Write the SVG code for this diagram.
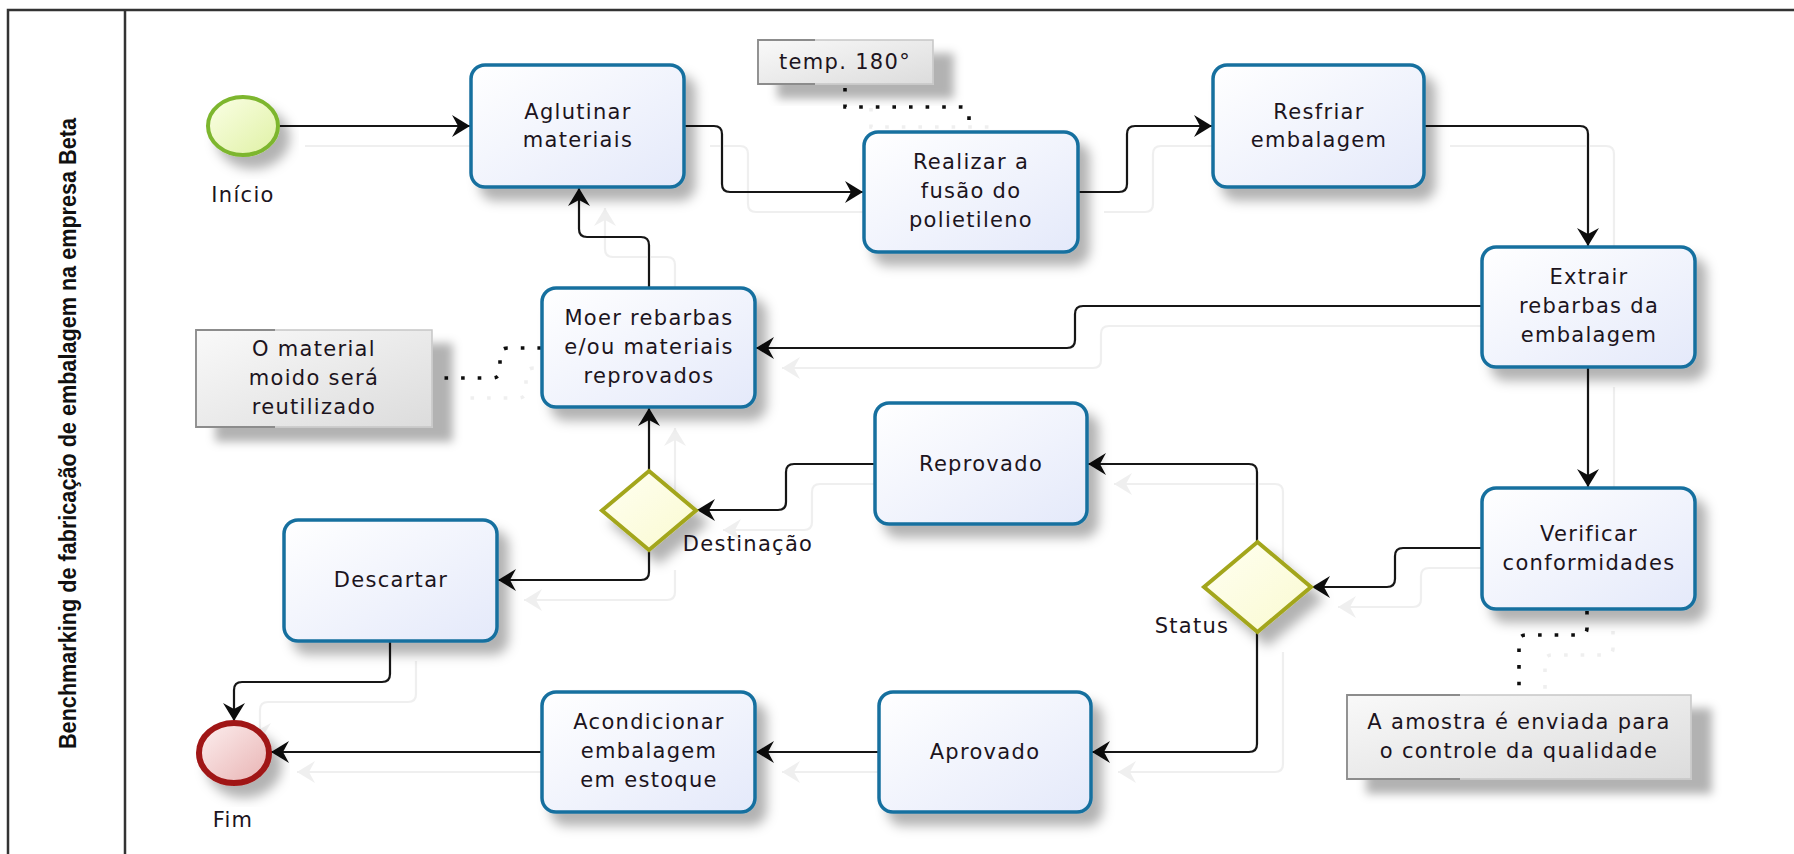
<svg xmlns="http://www.w3.org/2000/svg" width="1794" height="854" viewBox="0 0 1794 854">
<style>
.lbl{font-family:"DejaVu Sans","Noto Sans",sans-serif;font-size:21px;letter-spacing:1.3px;fill:#1c1420;text-anchor:middle}
.task{fill:url(#gTask);stroke:#17709f;stroke-width:3.5}
.conn{fill:none;stroke:#151515;stroke-width:2.2;marker-end:url(#arr)}
.assoc{fill:none;stroke:#111;stroke-width:3.6;stroke-dasharray:3.6 13;stroke-linecap:butt}
.note{fill:url(#gNote);stroke:#c6c6c6;stroke-width:1.5}
.brk{fill:none;stroke:#8c8c8c;stroke-width:1.8}
.gw{fill:url(#gGw);stroke:#a3a61e;stroke-width:4}
</style>
<defs>
<linearGradient id="gTask" x1="0" y1="0" x2="1" y2="1"><stop offset="0" stop-color="#ffffff"/><stop offset="1" stop-color="#e4e9fa"/></linearGradient>
<linearGradient id="gStart" x1="0" y1="0" x2="1" y2="1"><stop offset="0" stop-color="#fbffe6"/><stop offset="1" stop-color="#dff1a4"/></linearGradient>
<linearGradient id="gEnd" x1="0" y1="0" x2="1" y2="1"><stop offset="0" stop-color="#fdf0f0"/><stop offset="1" stop-color="#e8b2b2"/></linearGradient>
<linearGradient id="gGw" x1="0" y1="0" x2="1" y2="1"><stop offset="0" stop-color="#fffff2"/><stop offset="1" stop-color="#fafad0"/></linearGradient>
<linearGradient id="gNote" x1="0" y1="0" x2="1" y2="1"><stop offset="0" stop-color="#f9f9f9"/><stop offset="1" stop-color="#dcdcdc"/></linearGradient>
<marker id="arr" viewBox="-20 -12 22 24" refX="0" refY="0" markerWidth="22" markerHeight="24" orient="auto" markerUnits="userSpaceOnUse"><path d="M0,0 L-18,-11 L-12,0 L-18,11 Z" fill="#111"/></marker>
<filter id="shNode" x="-20%" y="-20%" width="150%" height="160%"><feDropShadow dx="10" dy="12" stdDeviation="6" flood-color="#000" flood-opacity="0.3"/></filter>
<filter id="shNote" x="-20%" y="-30%" width="150%" height="180%"><feDropShadow dx="20" dy="14" stdDeviation="5" flood-color="#000" flood-opacity="0.3"/></filter>
<filter id="shConn" x="-5%" y="-5%" width="115%" height="120%"><feOffset in="SourceAlpha" dx="26" dy="20" result="o"/><feFlood flood-color="#efefef"/><feComposite in2="o" operator="in" result="s"/><feMerge><feMergeNode in="s"/><feMergeNode in="SourceGraphic"/></feMerge></filter>
</defs>
<rect width="1794" height="854" fill="#ffffff"/>
<g id="pool">
<rect x="8" y="10" width="1810" height="900" fill="none" stroke="#333" stroke-width="2.5"/>
<line x1="125" y1="10" x2="125" y2="860" stroke="#333" stroke-width="2.5"/>
<text transform="translate(76,433.5) rotate(-90)" font-family="Liberation Sans, Arial, sans-serif" font-weight="bold" font-size="24" fill="#111" text-anchor="middle" textLength="631" lengthAdjust="spacingAndGlyphs">Benchmarking de fabricação de embalagem na empresa Beta</text>
</g>
<g id="connectors" filter="url(#shConn)">
<path class="conn" d="M279,126 H470"/>
<path class="conn" d="M684,126 H714 Q722,126 722,134 V184 Q722,192 730,192 H863"/>
<path class="conn" d="M1078,192 H1119 Q1127,192 1127,184 V134 Q1127,126 1135,126 H1212"/>
<path class="conn" d="M1424,126 H1580 Q1588,126 1588,134 V246"/>
<path class="conn" d="M1482,306 H1083 Q1075,306 1075,314 V340 Q1075,348 1067,348 H756"/>
<path class="conn" d="M649,288 V245 Q649,237 641,237 H587 Q579,237 579,229 V188"/>
<path class="conn" d="M1588,367 V487"/>
<path class="conn" d="M1482,548 H1403 Q1395,548 1395,556 V579 Q1395,587 1387,587 H1312"/>
<path class="conn" d="M1257,542 V472 Q1257,464 1249,464 H1088"/>
<path class="conn" d="M1257,632 V744 Q1257,752 1249,752 H1092"/>
<path class="conn" d="M874,464 H794 Q786,464 786,472 V502 Q786,510 778,510 H697"/>
<path class="conn" d="M649,471 V408"/>
<path class="conn" d="M649,550 V572 Q649,580 641,580 H498"/>
<path class="conn" d="M390,641 V674 Q390,682 382,682 H242 Q234,682 234,690 V721"/>
<path class="conn" d="M541,752 H271"/>
<path class="conn" d="M879,752 H756"/>
<path class="assoc" d="M845,88 V107 H962 Q969,107 969,114 V131"/>
<path class="assoc" d="M541,348 H508 Q500,348 500,356 V370 Q500,378 492,378 H435"/>
<path class="assoc" d="M1587,611 V628 Q1587,635 1580,635 H1526 Q1519,635 1519,642 V694"/>
</g>
<g id="start" filter="url(#shNode)"><ellipse cx="243" cy="126" rx="35" ry="29" fill="url(#gStart)" stroke="#7db62e" stroke-width="4"/></g>
<text class="lbl" x="243" y="202">Início</text>
<g id="aglutinar"><rect class="task" x="471" y="65" width="213" height="122" rx="14" filter="url(#shNode)"/><text class="lbl" x="578" y="119">Aglutinar</text><text class="lbl" x="578" y="147">materiais</text></g>
<g id="realizar"><rect class="task" x="864" y="132" width="214" height="120" rx="14" filter="url(#shNode)"/><text class="lbl" x="971" y="169">Realizar a</text><text class="lbl" x="971" y="198">fusão do</text><text class="lbl" x="971" y="227">polietileno</text></g>
<g id="resfriar"><rect class="task" x="1213" y="65" width="211" height="122" rx="14" filter="url(#shNode)"/><text class="lbl" x="1319" y="119">Resfriar</text><text class="lbl" x="1319" y="147">embalagem</text></g>
<g id="extrair"><rect class="task" x="1482" y="247" width="213" height="120" rx="14" filter="url(#shNode)"/><text class="lbl" x="1589" y="284">Extrair</text><text class="lbl" x="1589" y="313">rebarbas da</text><text class="lbl" x="1589" y="342">embalagem</text></g>
<g id="moer"><rect class="task" x="542" y="288" width="213" height="119" rx="14" filter="url(#shNode)"/><text class="lbl" x="649" y="325">Moer rebarbas</text><text class="lbl" x="649" y="354">e/ou materiais</text><text class="lbl" x="649" y="383">reprovados</text></g>
<g id="verificar"><rect class="task" x="1482" y="488" width="213" height="121" rx="14" filter="url(#shNode)"/><text class="lbl" x="1589" y="541">Verificar</text><text class="lbl" x="1589" y="570">conformidades</text></g>
<g id="status"><path class="gw" d="M1257.5,542 L1311,587 L1257.5,632 L1204,587 Z" filter="url(#shNode)"/><text class="lbl" x="1192" y="633">Status</text></g>
<g id="reprovado"><rect class="task" x="875" y="403" width="212" height="121" rx="14" filter="url(#shNode)"/><text class="lbl" x="981" y="471">Reprovado</text></g>
<g id="destinacao"><path class="gw" d="M649,471 L696,510.5 L649,550 L602,510.5 Z" filter="url(#shNode)"/><text class="lbl" x="748" y="551">Destinação</text></g>
<g id="descartar"><rect class="task" x="284" y="520" width="213" height="121" rx="14" filter="url(#shNode)"/><text class="lbl" x="391" y="587">Descartar</text></g>
<g id="aprovado"><rect class="task" x="879" y="692" width="212" height="120" rx="14" filter="url(#shNode)"/><text class="lbl" x="985" y="759">Aprovado</text></g>
<g id="acondicionar"><rect class="task" x="542" y="692" width="213" height="120" rx="14" filter="url(#shNode)"/><text class="lbl" x="649" y="729">Acondicionar</text><text class="lbl" x="649" y="758">embalagem</text><text class="lbl" x="649" y="787">em estoque</text></g>
<g id="fim"><ellipse cx="234" cy="753" rx="35" ry="30" fill="url(#gEnd)" stroke="#a01414" stroke-width="6" filter="url(#shNode)"/><text class="lbl" x="233" y="827">Fim</text></g>
<g id="note-temp"><rect class="note" x="758" y="40" width="175" height="44" filter="url(#shNote)"/><path class="brk" d="M815,40 H758 V84 H815"/><text class="lbl" x="845" y="69">temp. 180°</text></g>
<g id="note-material"><rect class="note" x="196" y="330" width="236" height="97" filter="url(#shNote)"/><path class="brk" d="M275,330 H196 V427 H275"/><text class="lbl" x="314" y="356">O material</text><text class="lbl" x="314" y="385">moido será</text><text class="lbl" x="314" y="414">reutilizado</text></g>
<g id="note-amostra"><rect class="note" x="1347" y="695" width="344" height="84" filter="url(#shNote)"/><path class="brk" d="M1460,695 H1347 V779 H1460"/><text class="lbl" x="1519" y="729">A amostra é enviada para</text><text class="lbl" x="1519" y="758">o controle da qualidade</text></g>
</svg>
